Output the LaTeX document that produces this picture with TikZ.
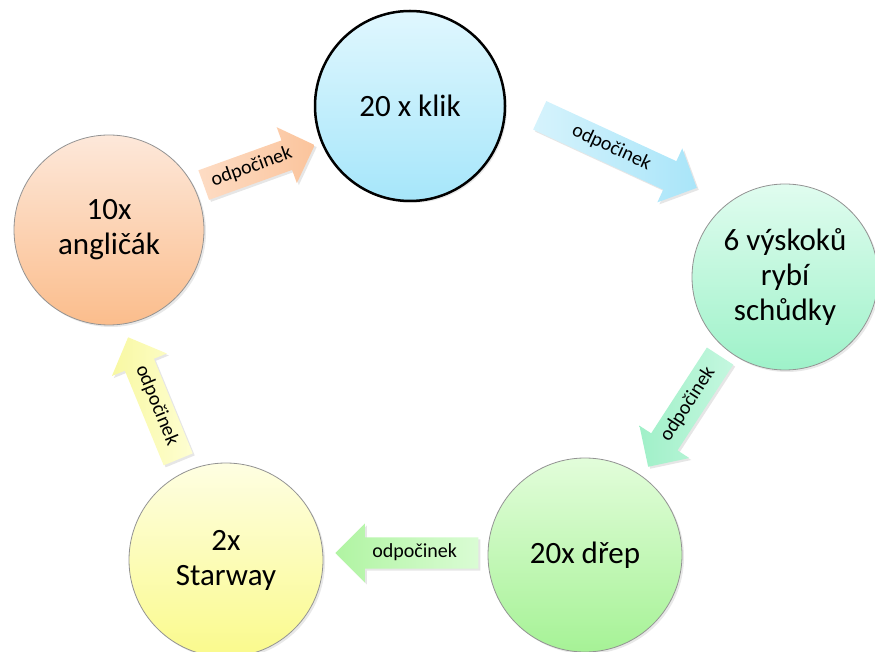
\documentclass[tikz,border=0pt]{standalone}
\usepackage{fontspec}
\setmainfont{Carlito}
\usetikzlibrary{shapes.arrows,shadows}
\definecolor{cyanT}{HTML}{E0F7FE}
\definecolor{cyanB}{HTML}{A6E6FA}
\definecolor{peachT}{HTML}{FDE8DA}
\definecolor{peachB}{HTML}{FBBD8C}
\definecolor{mintT}{HTML}{E0FCEF}
\definecolor{mintB}{HTML}{9EF2C9}
\definecolor{greenT}{HTML}{E2FDDA}
\definecolor{greenB}{HTML}{A6F296}
\definecolor{yelT}{HTML}{FEFEE2}
\definecolor{yelB}{HTML}{FAFA8C}
\definecolor{arrOrA}{HTML}{FDDCC4}
\definecolor{arrOrB}{HTML}{FBC49C}
\definecolor{arrBlA}{HTML}{D6F3FC}
\definecolor{arrBlB}{HTML}{A9E5F9}
\definecolor{arrTeA}{HTML}{C4F7DF}
\definecolor{arrTeB}{HTML}{A0F0C8}
\definecolor{arrGrA}{HTML}{DAFCD4}
\definecolor{arrGrB}{HTML}{B0F4A2}
\definecolor{arrYeA}{HTML}{FEFED2}
\definecolor{arrYeB}{HTML}{F8F8A2}
\begin{document}
\begin{tikzpicture}[x=1pt,y=1pt,
  station/.style={circle, minimum size=190pt, inner sep=0pt, align=center,
    font=\fontsize{31}{35}\selectfont, draw=gray!85, line width=0.8pt,
    drop shadow={opacity=0.18, shadow xshift=2pt, shadow yshift=-2pt}},
  rest/.style={single arrow, single arrow head extend=14pt, single arrow tip angle=90,
    inner xsep=4pt, inner ysep=7pt, text height=13pt, text depth=4pt,
    font=\fontsize{20}{24}\selectfont, anchor=tip,
    drop shadow={opacity=0.2, shadow xshift=2pt, shadow yshift=-2pt}},
]
\useasboundingbox (0,0) rectangle (875,651);

\node[station, draw=black, line width=2.5pt, top color=cyanT, bottom color=cyanB] (klik) at (410,545) {20 x klik};
\node[station, top color=peachT, bottom color=peachB] (anglicak) at (109,421) {10x\\angličák};
\node[station, minimum size=186pt, top color=mintT, bottom color=mintB] (vyskok) at (785,374) {6 výskoků\\rybí\\schůdky};
\node[station, minimum size=194pt, top color=greenT, bottom color=greenB] (drep) at (585,96) {20x dřep};
\node[station, minimum size=194pt, top color=yelT, bottom color=yelB] (starway) at (226,91) {2x\\Starway};

\node[rest, rotate=19.8, minimum height=118pt, left color=arrOrA, right color=arrOrB] (r1) at (315,506) {odpočinek};
\node[rest, rotate=-24.8, minimum height=173pt, left color=arrBlA, right color=arrBlB] (r2) at (697,463) {odpočinek};
\node[rest, rotate=57, shape border rotate=180, minimum height=132pt, right color=arrTeA, left color=arrTeB] (r3) at (648,184) {odpočinek};
\node[rest, shape border rotate=180, minimum height=143pt, right color=arrGrA, left color=arrGrB] (r4) at (335,98) {odpočinek};
\node[rest, rotate=-67.7, shape border rotate=180, minimum height=132pt, right color=arrYeA, left color=arrYeB] (r5) at (128,314) {odpočinek};
\end{tikzpicture}
\end{document}
